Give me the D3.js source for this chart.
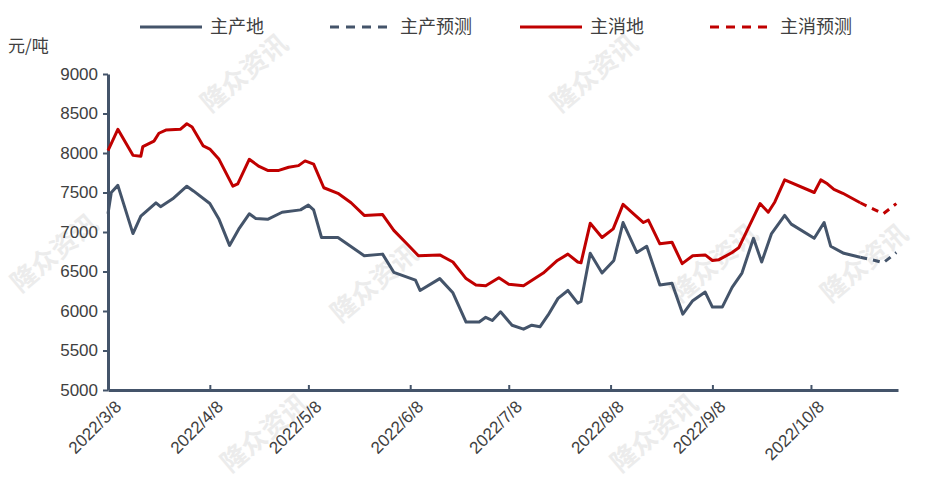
<!DOCTYPE html>
<html><head><meta charset="utf-8">
<script src="https://cdn.jsdelivr.net/npm/d3@7"></script>
<style>body{margin:0;background:#fff;font-family:"Noto Sans CJK SC","Noto Sans",sans-serif;}</style>
</head><body><svg id="chart" width="940" height="504"></svg>
<script>
// days since 2022/3/8
const prodDays = [0,1,3,7.6,10,14.6,16,19.7,24,26,31,33.8,37,40,43,45,48.6,53,58.6,61,62.6,65,70,78,83.6,87,93.6,95,101,105,109,113,115,117,119.5,123,126.5,129,131.5,134,137,140,143,144,146.8,150.4,154,156.8,161,164,168,171.7,175,178,181.8,184,187,190,193,196.5,199,202,206,208,215,218,220,224,229];
const prodVals = [7230,7500,7590,6980,7200,7370,7320,7420,7580,7520,7360,7160,6830,7050,7230,7170,7160,7250,7280,7340,7280,6930,6930,6700,6720,6490,6390,6260,6410,6230,5860,5860,5920,5880,5990,5820,5770,5820,5800,5950,6160,6260,6100,6120,6730,6480,6640,7120,6740,6820,6330,6350,5960,6130,6240,6050,6050,6300,6480,6920,6620,6980,7210,7100,6920,7120,6820,6730,6680];
const prodFcDays = [229,233.5,236,240];
const prodFcVals = [6680,6640,6610,6740];

const consDays = [0,3,7.6,10,10.6,14,15.5,17.6,22,24,25.6,29,31,33.8,38,39.5,43,46,48.6,52,55,58,60,62.6,65.7,70,74,78,83.6,87,91.5,94.5,101,105,109,112,115,119,122,126.5,132.5,136.8,140,143,144,146.8,150.4,153.8,156.8,160,163,164.5,168,171.7,174.8,178,181.8,184,186,190,192,198.5,201,203,206,215,217,219,221,223.7,229];
const consVals = [8030,8300,7970,7960,8080,8150,8250,8290,8300,8370,8330,8090,8050,7920,7580,7610,7920,7830,7780,7780,7820,7840,7900,7860,7560,7490,7370,7210,7220,7020,6830,6700,6710,6620,6410,6330,6320,6420,6340,6320,6480,6640,6720,6620,6610,7110,6930,7040,7350,7230,7120,7150,6850,6870,6600,6700,6710,6640,6650,6740,6800,7360,7250,7380,7660,7500,7660,7610,7540,7490,7370];
const consFcDays = [229,233,236,240];
const consFcVals = [7370,7290,7230,7360];

const tickLabels = ["2022/3/8","2022/4/8","2022/5/8","2022/6/8","2022/7/8","2022/8/8","2022/9/8","2022/10/8"];
const yTicks = [5000,5500,6000,6500,7000,7500,8000,8500,9000];
const legendNames = ["主产地","主产预测","主消地","主消预测"];

const start = new Date(2022,2,8);
const toDate = d => new Date(start.getTime() + d*86400000);
const svg = d3.select("#chart");
const x = d3.scaleTime().domain([start, toDate(240.5)]).range([108, 898]);
const y = d3.scaleLinear().domain([5000,9000]).range([390,74]);
const blue = "#44546a", red = "#c00000";

// watermarks
[[250,80],[600,80],[60,260],[380,290],[720,270],[870,270],[660,440],[270,440]].forEach(([wx,wy])=>{
  svg.append("text").attr("transform",`translate(${wx},${wy}) rotate(-40)`)
    .attr("font-size",26).attr("font-weight","bold").attr("fill","#ececec").attr("text-anchor","middle").text("隆众资讯");
});

const ya = svg.append("g").attr("transform","translate(108,0)")
  .call(d3.axisLeft(y).tickValues(yTicks).tickFormat(d3.format("d")).tickSize(5).tickSizeOuter(0));
ya.select(".domain").attr("stroke",blue).attr("stroke-width",3);
ya.selectAll("line").attr("stroke",blue).attr("stroke-width",2);
ya.selectAll("text").attr("font-size",17).attr("fill","#404040").attr("x",-10).attr("font-family","Liberation Sans, sans-serif");

const monthDates = tickLabels.map(t=>{const p=t.split("/");return new Date(+p[0],+p[1]-1,+p[2]);});
const xa = svg.append("g").attr("transform","translate(0,390)")
  .call(d3.axisBottom(x).tickValues(monthDates).tickFormat((d,i)=>tickLabels[i]).tickSize(-5).tickSizeOuter(0));
xa.select(".domain").attr("stroke",blue).attr("stroke-width",3);
xa.selectAll("line").attr("stroke",blue).attr("stroke-width",2);
xa.selectAll("text").attr("font-size",17).attr("fill","#404040").attr("font-family","Liberation Sans, sans-serif")
  .attr("text-anchor","end").attr("transform","translate(6,10) rotate(-45)").attr("dy","0.3em").attr("y",6);

svg.append("text").attr("x",8).attr("y",52).attr("font-size",17).attr("fill","#404040").text("元/吨");

const line = d3.line().x(d=>x(toDate(d[0]))).y(d=>y(d[1]));
function draw(days, vals, color, dash){
  svg.append("path").datum(days.map((d,i)=>[d,vals[i]])).attr("d",line)
    .attr("fill","none").attr("stroke",color).attr("stroke-width",3)
    .attr("stroke-dasharray",dash?"7,6":null).attr("stroke-linejoin","round");
}
draw(prodDays,prodVals,blue,false);
draw(prodFcDays,prodFcVals,blue,true);
draw(consDays,consVals,red,false);
draw(consFcDays,consFcVals,red,true);

const legX = [140,330,520,710];
legendNames.forEach((n,i)=>{
  const c = i<2?blue:red, dash = i%2===1;
  svg.append("line").attr("x1",legX[i]).attr("x2",legX[i]+62).attr("y1",27).attr("y2",27)
    .attr("stroke",c).attr("stroke-width",3).attr("stroke-dasharray",dash?"9,7":null);
  svg.append("text").attr("x",legX[i]+70).attr("y",33).attr("font-size",18).attr("fill","#404040").text(n);
});
</script></body></html>
